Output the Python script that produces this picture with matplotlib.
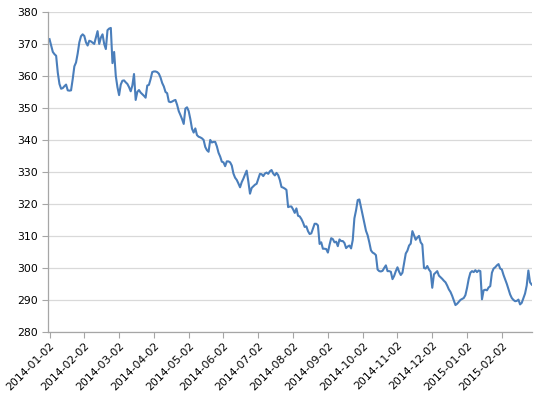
import matplotlib
matplotlib.use("Agg")
import matplotlib.pyplot as plt

# daily values (trading days)
values = [
    371.5, 369.5, 367.5, 366.8, 366.3, 361.0, 357.5, 356.0, 356.2, 356.8,
    357.3, 355.5, 355.4, 355.5, 359.0, 363.0, 364.2, 367.0, 370.5, 372.4,
    373.0, 372.5, 370.5, 369.5, 371.0, 370.8, 370.4, 370.0, 372.0, 374.0,
    370.0, 372.0, 373.0, 370.0, 368.4, 374.3, 374.8, 375.0, 364.0, 367.5,
    360.0, 356.5, 354.0, 357.3, 358.5, 358.6, 358.0, 357.5, 356.5, 355.2,
    357.0, 360.6, 352.5, 355.0, 355.6, 354.8, 354.3, 353.8, 353.2, 357.0,
    357.2, 359.0, 361.2, 361.4, 361.4, 361.2, 360.7, 359.5, 357.8, 356.7,
    355.0, 354.6, 352.0, 351.8, 352.0, 352.3, 352.5, 351.0, 349.0, 347.8,
    346.5, 345.0, 349.8, 350.2, 349.0, 346.5, 343.5, 342.3, 343.6, 341.5,
    341.0, 340.8, 340.5, 340.0, 337.8, 336.8, 336.3, 340.0, 339.2, 339.4,
    339.4, 338.0, 336.0, 334.8, 333.2, 333.0, 331.8, 333.3, 333.3, 333.0,
    332.0, 329.5, 328.2, 327.5, 326.4, 325.2, 326.8, 327.9, 329.2, 330.4,
    327.0, 323.2, 325.0, 325.5, 326.0, 326.3, 327.8, 329.4, 329.3, 328.7,
    329.5, 329.8, 329.4, 330.2, 330.6, 329.5, 328.9, 329.7, 329.0, 327.5,
    325.3, 325.1, 324.8, 324.4, 319.0, 319.2, 319.2, 318.3, 317.2, 318.6,
    316.3, 316.1, 315.3, 314.2, 312.8, 313.0, 311.5, 310.6, 310.8, 312.3,
    313.8, 313.8, 313.3, 307.5, 308.0, 306.0, 306.0, 305.9, 304.8, 307.2,
    309.3, 309.0, 308.0, 308.2, 306.8, 308.9, 308.4, 308.4, 307.8, 306.2,
    306.7, 307.0, 306.1, 308.7, 315.5, 318.0, 321.2, 321.4, 319.0, 316.5,
    314.0, 311.6, 310.2, 308.0, 305.5, 304.8, 304.5, 304.0, 299.5, 299.0,
    298.9, 299.1, 300.0, 300.8, 299.0, 299.0, 298.8, 296.5, 297.5, 299.0,
    300.2, 298.8, 297.8, 298.5, 301.5, 304.5, 305.4, 307.0, 307.6, 311.5,
    310.2, 308.8, 309.5, 310.0, 308.0, 307.3, 300.0, 299.8, 300.6, 299.5,
    298.8, 293.8, 298.0, 298.5, 299.0, 297.6, 297.1, 296.6, 296.0, 295.5,
    294.5, 293.3, 292.5, 291.3, 289.8, 288.4, 288.8, 289.4, 290.0, 290.3,
    290.6, 291.5, 293.8, 296.6, 298.5, 299.0, 298.7, 299.3, 298.7, 299.2,
    299.0, 290.2, 293.0, 293.2, 293.0, 293.9, 294.3, 298.5, 299.8, 300.2,
    300.8, 301.2, 299.8, 299.5, 297.8, 296.4, 295.0, 293.3, 291.7, 290.6,
    290.0, 289.6, 289.7, 290.1, 288.6, 289.1, 290.5, 292.0, 294.5, 299.2,
    295.5, 294.8,
]

tick_labels = [
    "2014-01-02", "2014-02-02", "2014-03-02", "2014-04-02", "2014-05-02",
    "2014-06-02", "2014-07-02", "2014-08-02", "2014-09-02", "2014-10-02",
    "2014-11-02", "2014-12-02", "2015-01-02", "2015-02-02",
]
label_every = 21  # one label per 21 trading days
y_ticks = [280, 290, 300, 310, 320, 330, 340, 350, 360, 370, 380]

plt.rcParams["font.family"] = ["DejaVu Sans"]

fig = plt.figure(figsize=(5.5, 3.98), dpi=100)
ax = fig.add_axes([0.0873, 0.166, 0.880, 0.804])

ax.plot(range(len(values)), values, color="#4a7ebb", linewidth=1.5)

ax.set_ylim(280, 380)
ax.set_yticks(y_ticks)
ax.set_xlim(-0.9, len(values) - 0.8)
ax.set_xticks([i * label_every for i in range(len(tick_labels))])
ax.set_xticklabels(tick_labels, rotation=45, ha="right", rotation_mode="anchor")

ax.grid(axis="y", color="#d9d9d9", linewidth=0.9)
ax.set_axisbelow(True)
for side in ("top", "right"):
    ax.spines[side].set_visible(False)
for side in ("left", "bottom"):
    ax.spines[side].set_color("#a6a6a6")
    ax.spines[side].set_linewidth(0.9)
ax.tick_params(axis="both", colors="#a6a6a6", length=4, width=0.8,
               labelcolor="black", labelsize=7.8)
ax.tick_params(axis="x", pad=2)

fig.savefig("out.png", dpi=100)
